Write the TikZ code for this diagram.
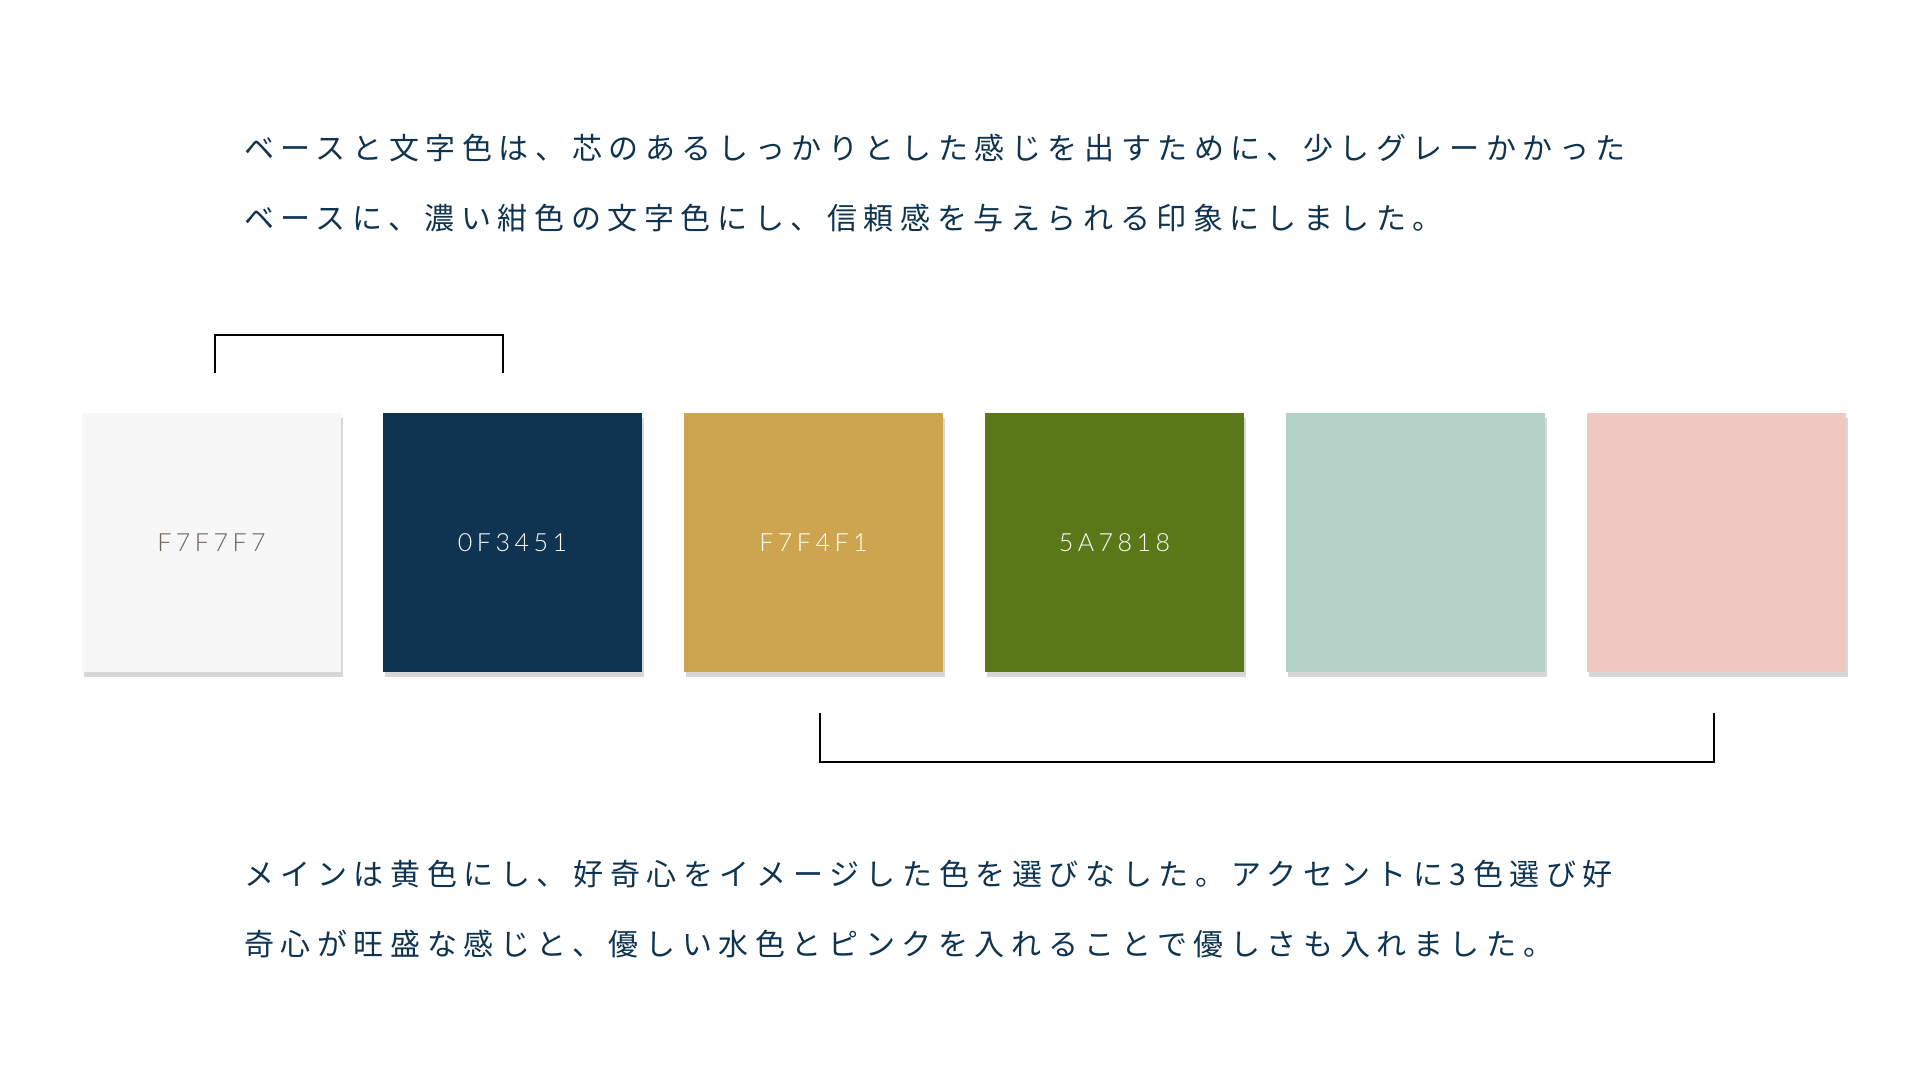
\documentclass[tikz,border=0pt]{standalone}
\usepackage{fontspec}
\usetikzlibrary{shadows}
\newfontfamily\jpfont[LetterSpace=22]{Noto Sans CJK JP}
\newfontfamily\hexfont[LetterSpace=18]{Lato Light}
\definecolor{navy}{HTML}{0F3451}
\definecolor{base}{HTML}{F7F7F7}
\definecolor{gold}{HTML}{CDA54E}
\definecolor{leaf}{HTML}{5A7818}
\definecolor{mint}{HTML}{B3D1C6}
\definecolor{blush}{HTML}{F0C8BF}
\definecolor{hexgray}{HTML}{6B6259}

\begin{document}
\begin{tikzpicture}[x=1pt,y=-1pt,
  swatch/.style={minimum width=259pt,minimum height=259pt,inner sep=0pt,
    drop shadow={shadow xshift=2pt,shadow yshift=-5pt,opacity=0.3,fill=gray}},
  hex/.style={font=\hexfont\fontsize{25}{25}\selectfont,text=white},
  para/.style={anchor=west,inner sep=0pt,text=navy,font=\jpfont\fontsize{30}{30}\selectfont},
  bracket/.style={line width=2.5pt}]

  \useasboundingbox[fill=white] (0,0) rectangle (1920,1080);

  % paragraphs
  \node[para] (p1) at (244,148) {ベースと文字色は、芯のあるしっかりとした感じを出すために、少しグレーかかった};
  \node[para] (p2) at (244,218) {ベースに、濃い紺色の文字色にし、信頼感を与えられる印象にしました。};
  \node[para] (p3) at (244,874) {メインは黄色にし、好奇心をイメージした色を選びなした。アクセントに3色選び好};
  \node[para] (p4) at (244,944) {奇心が旺盛な感じと、優しい水色とピンクを入れることで優しさも入れました。};

  % swatches
  \foreach \col [count=\i from 0] in {base,navy,gold,leaf,mint,blush}
    \node[swatch,fill=\col] (s\i) at (211.5+301*\i,542.5) {};
  \node[hex,text=hexgray] at (s0) {F7F7F7};
  \node[hex] at (s1) {0F3451};
  \node[hex] at (s2) {F7F4F1};
  \node[hex] at (s3) {5A7818};

  % brackets
  \coordinate (a1) at (215,373);
  \coordinate (a2) at (503,373);
  \draw[bracket] (a1) -- (215,335) -- (503,335) -- (a2);
  \coordinate (b1) at (820,713);
  \coordinate (b2) at (1714,713);
  \draw[bracket] (b1) -- (820,762) -- (1714,762) -- (b2);
\end{tikzpicture}
\end{document}
